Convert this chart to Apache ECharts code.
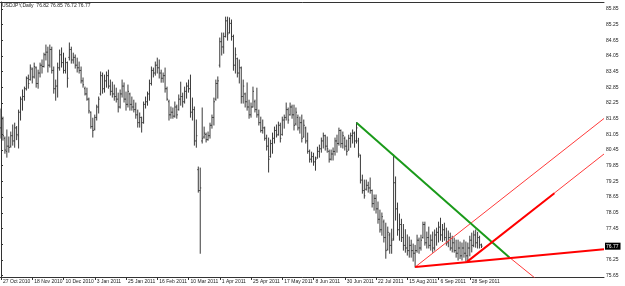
<!DOCTYPE html>
<html><head><meta charset="utf-8">
<script src="https://cdn.jsdelivr.net/npm/echarts@6/dist/echarts.min.js"></script>
<style>html,body{margin:0;padding:0;background:#fff}#c{width:625px;height:286px}</style>
</head><body><div id="c"></div>
<script>
// ---- data (bar index 0 = 27 Oct 2010, one bar per trading day) ----
const symbolName = 'USDJPY,Daily';
const opens = [
81.30,81.65,80.90,80.40,80.60,80.60,81.00,80.80,81.30,81.00,
81.90,82.40,82.50,82.80,83.20,83.15,83.55,83.25,83.60,83.00,
83.40,83.70,83.65,84.10,84.20,83.70,84.30,83.50,82.80,82.90,
83.60,84.10,83.80,83.50,83.80,84.00,84.30,83.90,84.00,83.70,
83.60,83.50,83.10,82.80,82.60,82.40,81.90,81.35,81.25,81.70,
82.10,82.60,83.30,82.80,83.10,83.30,82.90,82.70,82.60,82.50,
82.40,82.10,82.60,82.90,82.40,82.20,82.60,82.20,82.10,82.00,
81.80,81.50,81.70,81.50,82.20,82.30,82.60,83.00,83.50,83.40,
83.70,83.60,83.40,83.20,83.30,82.80,82.30,81.80,81.90,81.75,
82.10,82.00,82.40,82.50,82.30,82.70,82.90,82.80,81.90,82.00,
80.80,79.70,78.90,80.80,80.95,81.05,80.85,81.00,81.40,81.70,
82.40,83.00,83.70,84.60,84.40,84.80,85.40,84.95,85.30,84.80,
83.70,83.95,83.40,83.60,82.50,82.60,82.30,82.10,81.80,82.10,
82.30,82.00,81.80,81.50,81.20,81.30,80.90,80.60,80.20,80.70,
80.90,81.20,81.05,81.40,81.05,81.60,81.70,82.00,81.80,82.10,
81.80,81.45,81.70,81.30,81.50,80.95,81.30,80.80,80.40,80.10,
80.20,80.00,80.15,80.40,80.50,80.80,81.00,80.60,80.40,80.10,
80.30,80.40,80.80,80.70,81.20,80.70,80.90,80.60,80.45,80.90,
81.00,81.10,80.80,80.80,80.25,79.30,78.90,78.95,79.10,79.00,
78.90,78.40,78.60,78.20,77.80,77.40,77.70,77.10,76.65,77.20,
76.80,77.05,79.20,78.20,77.40,77.60,77.10,76.80,76.70,76.60,
76.80,76.60,76.50,76.60,77.00,76.70,77.10,77.60,76.90,77.10,
76.80,77.00,76.70,77.20,77.30,77.50,77.20,77.40,77.10,76.90,
77.10,76.70,76.90,76.60,76.50,76.70,76.40,76.70,76.50,76.40,
76.70,77.00,76.80,77.20,76.90,77.10,76.82];
const highs = [
82.02,81.71,80.95,81.22,80.95,81.14,81.41,81.48,81.35,81.98,
82.48,82.75,82.86,83.25,83.32,83.71,83.59,83.78,83.63,83.51,
83.78,83.90,84.16,84.47,84.39,84.47,84.39,83.63,83.13,83.78,
84.28,84.36,84.16,83.97,83.82,84.55,84.39,84.16,84.09,83.97,
83.82,83.63,83.21,82.86,82.82,82.44,81.91,81.67,81.79,82.17,
82.48,83.44,83.40,83.32,83.44,83.51,83.13,83.05,82.94,82.82,
82.63,82.75,83.13,83.02,82.67,82.94,82.63,82.48,82.36,82.25,
81.98,81.87,81.71,82.29,82.48,82.67,83.13,83.63,83.59,83.82,
83.97,83.90,83.51,83.40,83.59,82.86,82.36,82.10,82.06,82.29,
82.17,82.56,83.05,82.63,82.86,83.02,83.13,83.32,82.44,82.10,
81.60,79.80,79.76,82.06,81.33,81.10,81.14,81.48,81.79,82.44,
83.13,83.25,84.74,84.93,84.93,85.54,85.54,85.51,85.43,84.85,
84.36,83.97,83.90,83.63,83.13,82.63,83.02,82.36,82.25,82.86,
82.36,82.82,81.98,81.71,81.60,81.33,81.02,80.91,80.83,81.10,
81.33,81.41,81.52,81.48,81.71,81.79,82.25,82.06,82.25,82.17,
82.17,82.06,81.79,81.71,81.79,81.60,81.33,81.10,80.45,80.37,
80.33,80.18,80.56,80.64,80.91,81.10,81.02,80.95,80.45,80.45,
80.53,80.91,81.02,81.29,81.22,81.14,80.95,80.83,81.02,81.10,
81.22,81.14,81.50,80.90,80.26,79.49,79.30,79.30,79.22,79.38,
78.92,78.73,78.73,78.46,78.15,78.04,77.77,77.65,77.50,77.27,
77.42,80.26,79.42,78.42,78.00,77.80,77.60,77.40,77.20,77.12,
77.00,76.85,76.80,77.19,77.08,77.19,77.69,77.69,77.31,77.50,
77.20,77.31,77.39,77.46,77.69,77.84,77.60,77.65,77.46,77.35,
77.27,77.15,77.08,77.00,77.00,76.93,76.89,77.00,76.93,76.89,
77.15,77.27,77.35,77.39,77.30,77.15,76.85];
const lows = [
80.91,80.83,80.33,80.18,80.37,80.56,80.64,80.56,80.85,80.53,
81.60,81.98,82.36,82.75,82.82,83.13,83.02,83.21,82.86,82.82,
83.25,83.40,83.63,83.90,83.44,83.63,83.40,82.63,82.36,82.48,
83.51,83.63,83.40,83.40,82.86,83.90,83.78,83.78,83.59,83.44,
83.40,83.02,82.86,82.56,82.36,81.87,81.29,80.95,81.22,81.60,
81.87,82.56,82.63,82.67,82.86,82.82,82.56,82.48,82.36,82.29,
81.91,82.06,82.48,82.29,81.98,82.10,81.98,81.98,81.91,81.67,
81.33,81.33,81.14,81.48,82.06,82.17,82.36,82.94,83.25,83.32,
83.40,83.21,83.05,83.05,82.67,82.36,81.60,81.67,81.67,81.71,
81.67,81.98,82.17,82.10,82.25,82.44,82.67,81.71,81.60,80.64,
80.56,78.84,76.50,80.72,80.91,80.76,80.83,80.91,81.29,81.41,
82.36,82.44,83.63,84.09,84.16,84.78,84.66,84.93,84.66,83.51,
83.40,83.25,83.02,82.25,82.25,82.10,81.98,81.67,81.71,82.10,
81.91,81.71,81.41,81.14,81.10,80.83,80.45,79.61,80.18,80.33,
80.72,80.95,81.02,80.76,81.02,81.29,81.60,81.48,81.79,81.67,
81.22,81.41,81.22,81.10,80.76,80.95,80.72,80.33,79.99,79.99,
79.87,79.68,80.14,80.18,80.37,80.53,80.45,80.37,79.99,80.07,
80.07,80.26,80.37,80.64,80.56,80.53,80.45,80.26,80.45,80.56,
80.72,80.56,80.72,80.18,79.19,78.80,78.61,78.92,78.84,78.80,
78.27,78.15,78.04,77.65,77.31,77.19,76.93,76.31,76.62,76.50,
76.50,77.00,77.77,77.19,77.00,76.95,76.62,76.54,76.43,76.35,
76.35,76.20,75.97,76.54,76.50,76.62,77.08,76.81,76.70,76.70,
76.62,76.54,76.62,76.81,76.93,77.00,76.95,77.00,76.81,76.75,
76.62,76.55,76.54,76.35,76.24,76.30,76.24,76.35,76.20,76.16,
76.40,76.55,76.75,76.73,76.70,76.70,76.72];
const closes = [
81.85,81.00,80.45,80.60,80.55,81.00,80.80,81.30,81.05,81.90,
82.40,82.50,82.80,83.20,83.00,83.60,83.25,83.65,83.00,83.40,
83.70,83.65,84.10,84.20,83.70,84.30,83.50,82.80,82.90,83.60,
84.10,83.80,83.50,83.80,83.20,84.30,83.90,84.00,83.70,83.60,
83.50,83.10,82.95,82.60,82.40,81.95,81.35,81.20,81.70,82.10,
82.40,83.30,82.80,83.10,83.30,82.90,82.70,82.60,82.50,82.40,
82.10,82.60,82.90,82.40,82.20,82.70,82.20,82.10,82.00,81.80,
81.50,81.70,81.50,82.20,82.30,82.60,83.00,83.50,83.40,83.70,
83.60,83.40,83.20,83.30,82.80,82.40,81.80,81.90,81.75,82.10,
81.80,82.40,82.50,82.30,82.70,82.90,82.80,81.90,82.00,80.80,
81.00,78.90,79.00,80.90,81.10,80.85,81.00,81.40,81.70,82.30,
83.00,83.10,84.60,84.40,84.80,85.40,84.90,85.30,84.80,83.70,
84.10,83.40,83.60,82.50,82.90,82.30,82.10,81.80,82.10,82.70,
82.00,81.80,81.50,81.20,81.30,80.90,80.60,80.10,80.70,80.90,
81.20,81.00,81.40,80.90,81.60,81.70,82.00,81.60,82.10,81.80,
81.40,81.90,81.30,81.50,80.90,81.40,80.80,80.40,80.10,80.20,
80.00,80.10,80.40,80.50,80.80,81.00,80.60,80.50,80.10,80.30,
80.40,80.80,80.70,81.20,80.70,81.00,80.60,80.40,80.90,81.00,
81.10,80.80,81.30,80.30,79.30,78.90,78.70,79.10,79.00,78.90,
78.40,78.60,78.20,77.80,77.40,77.90,77.10,76.60,77.30,76.80,
77.00,79.20,78.20,77.40,77.60,77.10,76.80,76.70,76.60,76.80,
76.60,76.50,76.60,77.00,76.70,77.00,77.60,76.90,77.10,76.80,
77.00,76.70,77.20,77.30,77.50,77.20,77.40,77.10,76.90,77.10,
76.70,76.90,76.60,76.50,76.70,76.40,76.70,76.50,76.40,76.70,
77.00,76.80,77.20,76.90,77.10,76.82,76.77];

// time-axis labels (every 16 bars)
const timeTickIndex = [0,16,32,48,64,80,96,112,128,144,160,176,192,208,224,240];
const timeTickLabels = ['27 Oct 2010','18 Nov 2010','10 Dec 2010','3 Jan 2011','25 Jan 2011','16 Feb 2011','10 Mar 2011','1 Apr 2011','25 Apr 2011','17 May 2011','8 Jun 2011','30 Jun 2011','22 Jul 2011','15 Aug 2011','6 Sep 2011','28 Sep 2011'];
// price-axis labels
const priceTicks = [75.65,76.25,76.85,77.45,78.05,78.65,79.25,79.85,80.45,81.05,81.65,82.25,82.85,83.45,84.05,84.65,85.25,85.85];

// trend lines, [barIndex, price] end points
const greenTrend = [[182, 81.50], [260.3, 76.34]];
const greenTrendRay = [[260.3, 76.34], [279, 75.21]];
const upperChannel = [[212, 75.97], [308.7, 81.66]];
const lowerChannelRay = [[238.5, 76.17], [308.7, 80.30]];
const lowerChannelSeg = [[238.5, 76.17], [283.3, 78.80]];
const supportLine = [[212, 75.97], [308.7, 76.65]];

// ---- chart ----
const X_MIN = -0.26, X_MAX = 308.7, Y_MIN = 75.59, Y_MAX = 86.12;
const last = opens.length - 1;
const lastClose = closes[last];
const ohlc = opens.map((o, i) => [i, o, highs[i], lows[i], closes[i]]);
const FONT = 'Liberation Sans';
const AX = '#333';

const chart = echarts.init(document.getElementById('c'), null, {renderer: 'canvas'});

function lineSeries(data, color, width) {
  return {type: 'line', data, symbol: 'none', silent: true, clip: true,
    lineStyle: {color, width}, xAxisIndex: 0, yAxisIndex: 0, z: 3};
}

const option = {
  animation: false,
  title: {
    text: `${symbolName}  ${opens[last].toFixed(2)} ${highs[last].toFixed(2)} ${lows[last].toFixed(2)} ${closes[last].toFixed(2)}`,
    left: 2, top: 3, padding: 0,
    textStyle: {fontFamily: FONT, fontSize: 5, fontWeight: 'normal', color: '#222'}
  },
  grid: {left: 0, right: 21, top: 2, bottom: 9, containLabel: false},
  xAxis: [{
    type: 'value', min: X_MIN, max: X_MAX, position: 'bottom',
    axisLine: {show: true, lineStyle: {color: AX, width: 1}},
    axisTick: {show: true, customValues: timeTickIndex, length: 3, lineStyle: {color: AX}},
    axisLabel: {customValues: timeTickIndex, margin: 2, align: 'left', padding: [0, 0, 0, 2],
      fontFamily: FONT, fontSize: 5, color: '#222',
      formatter: v => timeTickLabels[timeTickIndex.indexOf(Math.round(v))] || ''},
    splitLine: {show: false}
  }, {
    type: 'value', min: X_MIN, max: X_MAX, position: 'top',
    axisLine: {show: true, lineStyle: {color: AX, width: 1}},
    axisTick: {show: false}, axisLabel: {show: false}, splitLine: {show: false}
  }],
  yAxis: [{
    type: 'value', min: Y_MIN, max: Y_MAX, position: 'right',
    axisLine: {show: true, lineStyle: {color: AX, width: 1}},
    axisTick: {show: true, customValues: priceTicks, length: 2, lineStyle: {color: AX}},
    axisLabel: {customValues: priceTicks.filter(v => Math.abs(v - lastClose) > 0.2),
      margin: 2, fontFamily: FONT, fontSize: 5, color: '#222', formatter: v => v.toFixed(2)},
    splitLine: {show: false}
  }, {
    type: 'value', min: Y_MIN, max: Y_MAX, position: 'right',
    axisLine: {show: false}, axisTick: {show: false}, splitLine: {show: false},
    axisLabel: {customValues: [lastClose], margin: 1, fontFamily: FONT, fontSize: 5,
      color: '#fff', backgroundColor: '#000', padding: [1, 2, 1, 1],
      formatter: v => v.toFixed(2)}
  }],
  series: [{
    type: 'custom', data: ohlc, xAxisIndex: 0, yAxisIndex: 0, clip: true, silent: true, z: 2,
    encode: {x: 0, y: [1, 2, 3, 4]},
    renderItem: function (params, api) {
      const i = api.value(0);
      const o = api.coord([i, api.value(1)]);
      const h = api.coord([i, api.value(2)]);
      const l = api.coord([i, api.value(3)]);
      const c = api.coord([i, api.value(4)]);
      const style = {stroke: '#3a3a3a', lineWidth: 1, fill: null};
      return {type: 'group', children: [
        {type: 'line', shape: {x1: h[0], y1: h[1] - 0.5, x2: l[0], y2: l[1] + 0.5}, style},
        {type: 'line', shape: {x1: o[0] - 1, y1: o[1], x2: o[0], y2: o[1]}, style},
        {type: 'line', shape: {x1: c[0], y1: c[1], x2: c[0] + 1, y2: c[1]}, style}
      ]};
    }
  },
    lineSeries(upperChannel, '#ff3a3a', 1),
    lineSeries(lowerChannelRay, '#ff3a3a', 1),
    lineSeries(greenTrendRay, '#ff3a3a', 1),
    lineSeries(greenTrend, '#1a9a1a', 2),
    lineSeries(supportLine, '#ff0000', 2),
    lineSeries(lowerChannelSeg, '#ff0000', 2)
  ]
};
chart.setOption(option);
</script>
</body></html>
